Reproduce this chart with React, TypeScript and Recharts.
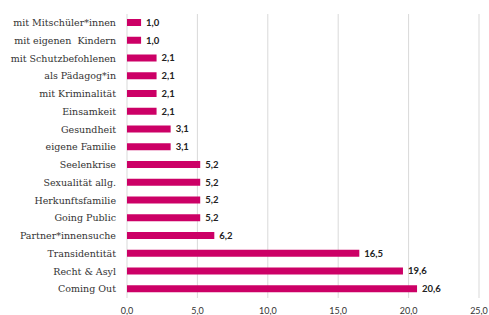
import { BarChart, Bar, XAxis, YAxis, CartesianGrid, LabelList } from 'recharts';

const categories = [
  'mit Mitschüler*innen',
  'mit eigenen  Kindern',
  'mit Schutzbefohlenen',
  'als Pädagog*in',
  'mit Kriminalität',
  'Einsamkeit',
  'Gesundheit',
  'eigene Familie',
  'Seelenkrise',
  'Sexualität allg.',
  'Herkunftsfamilie',
  'Going Public',
  'Partner*innensuche',
  'Transidentität',
  'Recht & Asyl',
  'Coming Out',
];
const values = [1.0, 1.0, 2.1, 2.1, 2.1, 2.1, 3.1, 3.1, 5.2, 5.2, 5.2, 5.2, 6.2, 16.5, 19.6, 20.6];
const xTicks = [0, 5, 10, 15, 20, 25];

const data = categories.map((name, i) => ({ name, value: values[i] }));

const fmt = (v: number) => v.toFixed(1).replace('.', ',');

// plain one-line tick, recharts would wrap the long names otherwise
const CategoryTick = (props: any) => {
  const { x, y, payload } = props;
  return (
    <text
      x={x - 3}
      y={y}
      dy="0.35em"
      textAnchor="end"
      fontSize={9.5}
      fill="#333"
      fontFamily="DejaVu Serif"
      style={{ whiteSpace: 'pre' }}
    >
      {payload.value}
    </text>
  );
};

export default function App() {
  return (
    <div style={{ position: 'absolute', left: 0, top: 0, background: '#fff' }}>
      <BarChart
        width={489}
        height={315}
        data={data}
        layout="vertical"
        margin={{ top: 14, right: 10, left: 0, bottom: 0 }}
      >
        <CartesianGrid horizontal={false} stroke="#d9d9d9" />
        <XAxis
          type="number"
          domain={[0, 25]}
          ticks={xTicks}
          tickFormatter={fmt}
          axisLine={false}
          tickLine={false}
          height={17}
          tickMargin={4}
          tick={{ fontSize: 9, fill: '#333', fontFamily: 'Lato' }}
        />
        <YAxis
          type="category"
          dataKey="name"
          width={127}
          axisLine={false}
          tickLine={false}
          interval={0}
          tick={<CategoryTick />}
        />
        <Bar dataKey="value" fill="#cc0066" barSize={7} isAnimationActive={false}>
          <LabelList
            dataKey="value"
            position="right"
            formatter={(v: any) => fmt(Number(v))}
            style={{ fontSize: 9.5, fontWeight: 700, fill: '#222', fontFamily: 'Lato' }}
          />
        </Bar>
      </BarChart>
    </div>
  );
}
